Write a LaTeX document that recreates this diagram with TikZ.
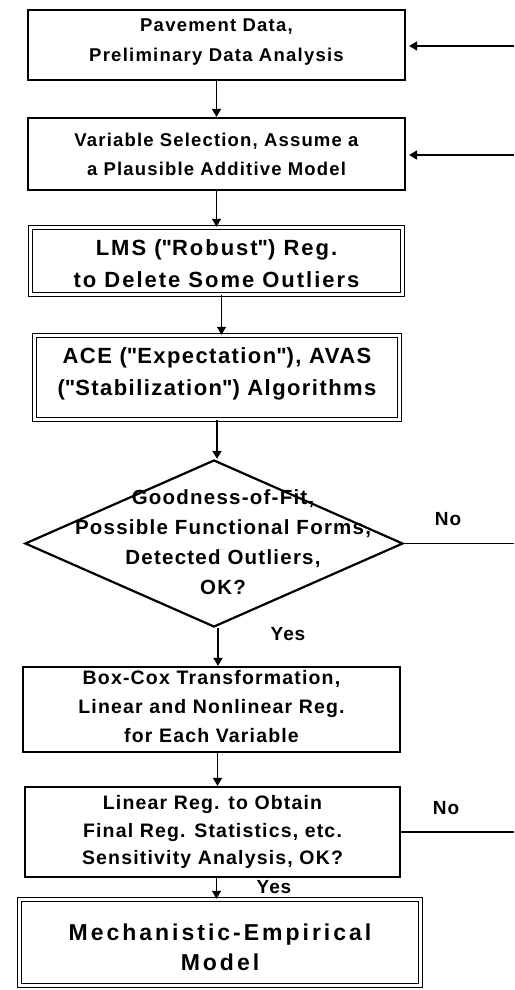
\documentclass[tikz,border=0pt]{standalone}
\usepackage{fontspec}
\setmainfont{Liberation Sans}
\usetikzlibrary{arrows.meta,shapes.geometric}
\newcommand{\qq}{\textquotedbl}
\begin{document}
\begin{tikzpicture}[x=1pt,y=-1pt,
  fs/.style n args={3}{font=\bfseries\fontsize{#1}{#2}\selectfont\addfontfeature{LetterSpace=#3}},
  plainbox/.style={draw,line width=2.2pt,rectangle,inner sep=0pt},
  dblbox/.style={draw,line width=1.5pt,double,double distance=2.2pt,rectangle,inner sep=0pt},
  txt/.style={align=center,inner sep=0pt},
  arr/.style={line width=1.6pt,-{Triangle[length=8pt,width=9pt]}},
  ln/.style={line width=1.4pt}]
\path[use as bounding box] (0,0) rectangle (514,990);
% shapes
\node[plainbox,minimum width=377pt,minimum height=70pt] (b1) at (216.5,45) {};
\node[plainbox,minimum width=377pt,minimum height=72pt] (b2) at (216.5,154) {};
\node[dblbox,minimum width=372pt,minimum height=67pt] (b3) at (216.5,261) {};
\node[dblbox,minimum width=365pt,minimum height=84pt] (b4) at (217,377.5) {};
\node[diamond,draw,line width=2.2pt,minimum width=378pt,minimum height=167pt,inner sep=0pt,aspect=2.26] (d) at (214,543.5) {};
\node[plainbox,minimum width=377pt,minimum height=85pt] (b5) at (211.5,709.5) {};
\node[plainbox,minimum width=375pt,minimum height=90pt] (b6) at (212.5,832) {};
\node[dblbox,minimum width=401pt,minimum height=86pt] (b7) at (220,942.5) {};
% texts
\node[txt,fs={18.5}{30}{6.7}] (t1) at (216.5,42) {Pavement Data,\\ Preliminary Data Analysis};
\node[txt,fs={18.5}{29}{6.3}] (t2) at (216.5,154) {Variable Selection, Assume a\\ a Plausible Additive Model};
\node[txt,fs={22}{32}{9}] (t3) at (216.5,264) {LMS (\qq Robust\qq) Reg.\\ to Delete Some Outliers};
\node[txt,fs={22}{32}{6.5}] (t4) at (217,374) {ACE (\qq Expectation\qq), AVAS\\ (\qq Stabilization\qq) Algorithms};
\node[txt,fs={20.5}{30}{6}] (dt) at (223,542) {Goodness-of-Fit,\\ Possible Functional Forms,\\ Detected Outliers,\\ OK?};
\node[txt,fs={19.5}{29}{6}] (t5) at (211.5,706.5) {Box-Cox Transformation,\\ Linear and Nonlinear Reg.\\ for Each Variable};
\node[txt,fs={19.5}{27.5}{6}] (t6) at (212.5,832) {Linear Reg. to Obtain\\ Final Reg. Statistics, etc.\\ Sensitivity Analysis, OK?};
\node[txt,fs={23}{30}{13}] (t7) at (220,947) {Mechanistic-Empirical\\ Model};
% connectors
\coordinate (r1) at (514,46);
\coordinate (r2) at (514,155);
\coordinate (r3) at (514,543.5);
\coordinate (r4) at (514,832);
\draw[arr] (r1) -- ([xshift=3pt]b1.east |- r1);
\draw[arr] (r2) -- ([xshift=3pt]b2.east |- r2);
\draw[ln] (d.east) -- (r3);
\draw[ln] (b6.east) -- (r4);
\draw[arr] (b1.south) -- (b2.north);
\draw[arr] (b2.south) -- (b3.north);
\draw[arr] ([xshift=5pt]b3.south) -- ([xshift=5pt]b3.south |- b4.north);
\draw[arr] (b4.south) -- (b4.south |- d.north);
\draw[arr] ([xshift=4pt]d.south) -- ([xshift=4pt]d.south |- b5.north);
\draw[arr] ([xshift=6pt]b5.south) -- ([xshift=6pt]b5.south |- b6.north);
\draw[arr] ([xshift=4pt]b6.south) -- ([xshift=4pt]b6.south |- b7.north);
% labels
\node[fs={19}{20}{5}] (no1) at (448,519) {No};
\node[fs={19}{20}{5}] (no2) at (446,808) {No};
\node[fs={19}{20}{5}] (yes1) at (288,634) {Yes};
\node[fs={19}{20}{5}] (yes2) at (274,887) {Yes};
\end{tikzpicture}
\end{document}
